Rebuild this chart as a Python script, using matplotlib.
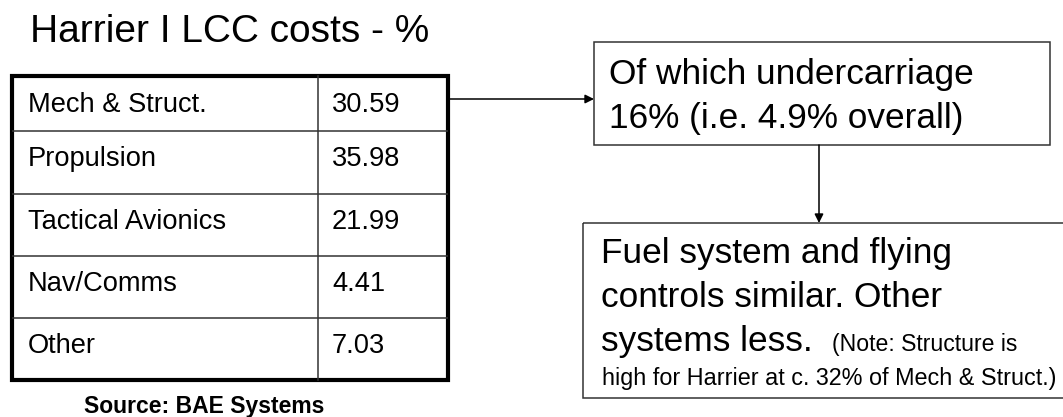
import matplotlib
matplotlib.use("Agg")
import matplotlib.pyplot as plt
from matplotlib.patches import Rectangle

# ---- data ----
title = "Harrier I LCC costs - %"
categories = ["Mech & Struct.", "Propulsion", "Tactical Avionics", "Nav/Comms", "Other"]
values = [30.59, 35.98, 21.99, 4.41, 7.03]
source = "Source: BAE Systems"
box1_lines = ["Of which undercarriage", "16% (i.e. 4.9% overall)"]
box2_lines = ["Fuel system and flying", "controls similar. Other", "systems less."]
note_line1 = "(Note: Structure is"
note_line2 = "high for Harrier at c. 32% of Mech & Struct.)"

# ---- layout (pixels) ----
W, H = 1063, 417
FONT = "Liberation Sans"
row_lines = [76, 131, 194, 256, 318, 380]
baselines = [112, 166, 229, 291, 353]
tbl_left, tbl_div, tbl_right = 11.5, 318, 447.5

fig = plt.figure(figsize=(W / 100, H / 100), dpi=100)
ax = fig.add_axes([0, 0, 1, 1])
ax.set_xlim(0, W)
ax.set_ylim(H, 0)
ax.axis("off")

# Title
ax.text(30, 42, title, fontsize=28, family=FONT, ha="left", va="baseline", color="black")

# Table inner lines
for y in row_lines[1:-1]:
    ax.plot([tbl_left, tbl_right], [y, y], color="#333333", lw=1.1, solid_capstyle="butt")
ax.plot([tbl_div, tbl_div], [row_lines[0], row_lines[-1]], color="#333333", lw=1.1)
# Outer border
ax.add_patch(Rectangle((tbl_left, row_lines[0]), tbl_right - tbl_left, row_lines[-1] - row_lines[0],
                       fill=False, edgecolor="black", lw=3.0, joinstyle="miter"))

for cat, val, b in zip(categories, values, baselines):
    ax.text(28, b, cat, fontsize=19.6, family=FONT, ha="left", va="baseline", color="black")
    ax.text(332, b, f"{val:.2f}", fontsize=19.6, family=FONT, ha="left", va="baseline", color="black")

# Source
ax.text(204, 413, source, fontsize=16.5, family=FONT, fontweight="bold", ha="center",
        va="baseline", color="black")

# Box 1
ax.add_patch(Rectangle((594, 42), 1050 - 594, 145 - 42, fill=False, edgecolor="#333333", lw=1.1))
for line, b in zip(box1_lines, [84, 128]):
    ax.text(609, b, line, fontsize=25.4, family=FONT, ha="left", va="baseline", color="black")

# Box 2 (extends past the right edge)
ax.add_patch(Rectangle((583, 223), 1080 - 583, 398 - 223, fill=False, edgecolor="#333333", lw=1.1,
                       clip_on=True))
for line, b in zip(box2_lines, [263, 307, 351]):
    ax.text(601, b, line, fontsize=25.4, family=FONT, ha="left", va="baseline", color="black")
ax.text(832, 351, note_line1, fontsize=16.6, family=FONT, ha="left", va="baseline", color="black")
ax.text(602, 385, note_line2, fontsize=16.8, family=FONT, ha="left", va="baseline", color="black")

# Arrows
arrow_kw = dict(arrowstyle="-|>", lw=1.1, color="black", mutation_scale=13, shrinkA=0, shrinkB=0)
ax.annotate("", xy=(594, 99), xytext=(448, 99), arrowprops=arrow_kw)
ax.annotate("", xy=(819, 223), xytext=(819, 145), arrowprops=arrow_kw)

fig.savefig("out.png", dpi=100, facecolor="white")
